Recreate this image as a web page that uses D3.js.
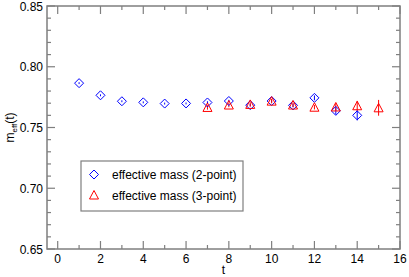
<!DOCTYPE html>
<html>
<head>
<meta charset="utf-8">
<script src="https://cdn.jsdelivr.net/npm/d3@7"></script>
<style>
  body { margin: 0; background: #fff; }
  text { font-family: "Liberation Sans", Arial, sans-serif; }
</style>
</head>
<body>
<div id="chart"></div>
<script>
// two-point effective mass
var t2 = [1, 2, 3, 4, 5, 6, 7, 8, 9, 10, 11, 12, 13, 14];
var m2 = [0.7865, 0.7765, 0.7716, 0.7707, 0.7697, 0.7698, 0.7706, 0.7718, 0.7684, 0.7718, 0.7682, 0.7744, 0.7637, 0.7600];
var e2 = [0.0008, 0.0008, 0.0008, 0.0008, 0.0008, 0.0008, 0.0010, 0.0010, 0.0010, 0.0012, 0.0015, 0.0020, 0.0030, 0.0042];

// three-point effective mass
var t3 = [7, 8, 9, 10, 11, 12, 13, 14, 15];
var m3 = [0.7665, 0.7685, 0.7690, 0.7717, 0.7685, 0.7667, 0.7669, 0.7679, 0.7662];
var e3 = [0.0018, 0.0018, 0.0018, 0.0018, 0.0018, 0.0018, 0.0030, 0.0040, 0.0065];

var xMajor = [0, 2, 4, 6, 8, 10, 12, 14, 16];
var yMajor = [0.65, 0.70, 0.75, 0.80, 0.85];

var margin = { top: 6, right: 9, bottom: 28, left: 47 },
    width = 409 - margin.left - margin.right,
    height = 277 - margin.top - margin.bottom;

var svg = d3.select("#chart")
  .append("svg")
    .attr("width", 409)
    .attr("height", 277)
  .append("g")
    .attr("transform", "translate(" + margin.left + "," + margin.top + ")");

var x = d3.scaleLinear().domain([-0.5, 16]).range([0, width]);
var y = d3.scaleLinear().domain([0.65, 0.85]).range([height, 0]);

var axisColor = "#7f7f7f";
var xMinor = d3.range(-0, 16, 1).filter(d => xMajor.indexOf(d) < 0);
var yMinor = d3.range(0.66, 0.85, 0.01).filter(d => Math.abs(Math.round(d * 100) % 5) != 0);

// ticks, pointing inward on all four sides
function ticks(sel, vals, len, horiz) {
  vals.forEach(function (v) {
    if (horiz) {
      sel.append("line").attr("x1", x(v)).attr("x2", x(v)).attr("y1", height).attr("y2", height - len);
      sel.append("line").attr("x1", x(v)).attr("x2", x(v)).attr("y1", 0).attr("y2", len);
    } else {
      sel.append("line").attr("y1", y(v)).attr("y2", y(v)).attr("x1", 0).attr("x2", len);
      sel.append("line").attr("y1", y(v)).attr("y2", y(v)).attr("x1", width).attr("x2", width - len);
    }
  });
}
var tg = svg.append("g").attr("stroke", axisColor).attr("stroke-width", 1.2);
ticks(tg, xMajor, 8, true);
ticks(tg, xMinor, 4, true);
ticks(tg, yMajor, 8, false);
ticks(tg, yMinor, 4, false);

svg.append("rect")
  .attr("width", width).attr("height", height)
  .attr("fill", "none").attr("stroke", axisColor).attr("stroke-width", 1.5);

// tick labels
svg.selectAll(".xl").data(xMajor).enter().append("text")
  .attr("x", d => x(d)).attr("y", height + 14)
  .attr("text-anchor", "middle").attr("font-size", 12)
  .text(d => d);
svg.selectAll(".yl").data(yMajor).enter().append("text")
  .attr("x", -4).attr("y", d => y(d) + 4.5)
  .attr("text-anchor", "end").attr("font-size", 12)
  .text(d => d.toFixed(2));

svg.append("text")
  .attr("x", width / 2).attr("y", height + 25)
  .attr("text-anchor", "middle").attr("font-size", 12)
  .text("t");

var yl = svg.append("text")
  .attr("transform", "translate(-33," + (height / 2) + ") rotate(-90)")
  .attr("text-anchor", "middle").attr("font-size", 12);
yl.append("tspan").text("m");
yl.append("tspan").attr("font-size", 8).attr("dy", 3).text("eff");
yl.append("tspan").attr("dy", -3).text("(t)");

// data
var d2 = t2.map((t, i) => ({ t: t, m: m2[i], e: e2[i] }));
var d3p = t3.map((t, i) => ({ t: t, m: m3[i], e: e3[i] }));

function errBars(data, color) {
  svg.append("g").selectAll("line").data(data).enter().append("line")
    .attr("x1", d => x(d.t)).attr("x2", d => x(d.t))
    .attr("y1", d => y(d.m - d.e)).attr("y2", d => y(d.m + d.e))
    .attr("stroke", color).attr("stroke-width", 1);
}
errBars(d2, "#0000ff");
errBars(d3p, "#ff0000");

var diamond = "M0,-4.5L4.5,0L0,4.5L-4.5,0Z";
var triangle = "M0,-4.5L4.5,4L-4.5,4Z";

svg.append("g").selectAll("path").data(d2).enter().append("path")
  .attr("d", diamond)
  .attr("transform", d => "translate(" + x(d.t) + "," + y(d.m) + ")")
  .attr("fill", "none").attr("stroke", "#0000ff").attr("stroke-width", 1);

svg.append("g").selectAll("path").data(d3p).enter().append("path")
  .attr("d", triangle)
  .attr("transform", d => "translate(" + x(d.t) + "," + y(d.m) + ")")
  .attr("fill", "none").attr("stroke", "#ff0000").attr("stroke-width", 1);

// legend
var lg = svg.append("g").attr("transform", "translate(34,155)");
lg.append("rect").attr("width", 162).attr("height", 50)
  .attr("fill", "#fff").attr("stroke", axisColor).attr("stroke-width", 1.2);
lg.append("path").attr("d", diamond).attr("transform", "translate(13,13.5)")
  .attr("fill", "none").attr("stroke", "#0000ff");
lg.append("path").attr("d", triangle).attr("transform", "translate(13,34)")
  .attr("fill", "none").attr("stroke", "#ff0000");
lg.append("text").attr("x", 31).attr("y", 18).attr("font-size", 12).text("effective mass (2-point)");
lg.append("text").attr("x", 31).attr("y", 39).attr("font-size", 12).text("effective mass (3-point)");
</script>
</body>
</html>
